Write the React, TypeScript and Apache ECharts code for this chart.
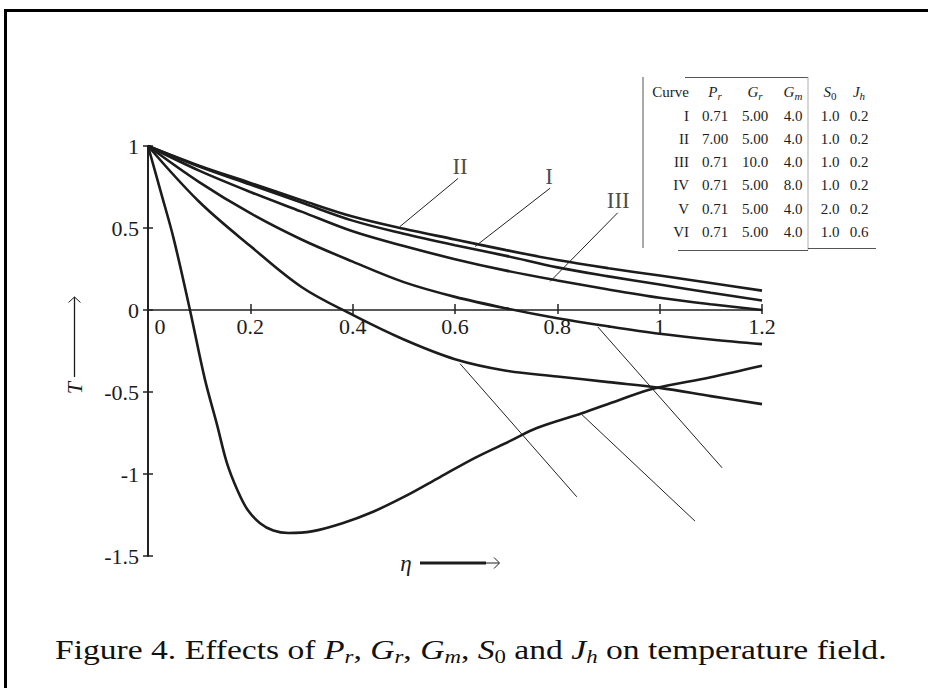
import React, { useEffect, useRef } from 'react';
import * as echarts from 'echarts';

// ---- data ----
const etaGrid = [0, 0.1, 0.2, 0.3, 0.4, 0.5, 0.6, 0.7, 0.8, 0.9, 1.0, 1.1, 1.2];
const curveII = [1, 0.88, 0.775, 0.67, 0.57, 0.495, 0.43, 0.365, 0.305, 0.255, 0.21, 0.165, 0.118];
const curveI = [1, 0.875, 0.765, 0.655, 0.545, 0.465, 0.395, 0.33, 0.26, 0.205, 0.155, 0.105, 0.058];
const curveIII = [1, 0.85, 0.72, 0.6, 0.48, 0.39, 0.31, 0.24, 0.18, 0.125, 0.075, 0.035, 0.0];
const curveIV = [1, 0.78, 0.59, 0.43, 0.295, 0.17, 0.08, 0.01, -0.05, -0.1, -0.145, -0.18, -0.208];
const curveVI = [1, 0.66, 0.39, 0.14, -0.03, -0.18, -0.3, -0.37, -0.405, -0.44, -0.475, -0.525, -0.574];
const etaV = [0, 0.025, 0.05, 0.082, 0.111, 0.135, 0.154, 0.175, 0.195, 0.219, 0.245, 0.274, 0.32, 0.38, 0.44, 0.5, 0.57, 0.64, 0.707, 0.76, 0.848, 0.92, 0.987, 1.1, 1.2];
const curveV = [1, 0.72, 0.437, 0, -0.42, -0.7, -0.93, -1.1, -1.22, -1.3, -1.345, -1.36, -1.35, -1.3, -1.23, -1.14, -1.02, -0.9, -0.8, -0.72, -0.63, -0.55, -0.48, -0.41, -0.34];

// leader lines [eta1, T1, eta2, T2] in data space
const leaders = [
  [0.4925, 0.509, 0.606, 0.802],
  [0.639, 0.387, 0.786, 0.743],
  [0.786, 0.174, 0.918, 0.593],
  [0.879, -0.103, 1.122, -0.962],
  [0.848, -0.638, 1.069, -1.287],
  [0.61, -0.328, 0.838, -1.139],
];
const curveLabels = ['II', 'I', 'III'];
const curveLabelPos = [
  [0.61, 0.874],
  [0.784, 0.814],
  [0.919, 0.665],
];

const xTicks = { min: 0, max: 1.2, interval: 0.2 };
const yTicks = { min: -1.5, max: 1, interval: 0.5 };

// table
const tableCurves = ['I', 'II', 'III', 'IV', 'V', 'VI'];
const tablePr = ['0.71', '7.00', '0.71', '0.71', '0.71', '0.71'];
const tableGr = ['5.00', '5.00', '10.0', '5.00', '5.00', '5.00'];
const tableGm = ['4.0', '4.0', '4.0', '8.0', '4.0', '4.0'];
const tableS0 = ['1.0', '1.0', '1.0', '1.0', '2.0', '1.0'];
const tableJh = ['0.2', '0.2', '0.2', '0.2', '0.2', '0.6'];

const FONT = 'Liberation Serif';
const INK = '#1c1c1c';

function zip(xs: number[], ys: number[]) {
  return xs.map((x, i) => [x, ys[i]]);
}

export default function App() {
  const ref = useRef<HTMLDivElement>(null);
  useEffect(() => {
    const chart = echarts.init(ref.current!, null, { renderer: 'svg' });

    const gridTop = 146;
    const gridHeight = 410;
    // pixel offset that brings a bottom x axis up to T = 0
    const zeroOffset = -gridHeight * (0 - yTicks.min) / (yTicks.max - yTicks.min);

    const lineSeries = (name: string, xs: number[], ys: number[]) => ({
      name,
      type: 'line',
      data: zip(xs, ys),
      showSymbol: false,
      smooth: 0.35,
      lineStyle: { color: INK, width: 2.6 },
      silent: true,
      z: 3,
    });

    const richSub = {
      i: { fontFamily: FONT, fontStyle: 'italic', fontSize: 15 },
      s: { fontFamily: FONT, fontStyle: 'italic', fontSize: 11, verticalAlign: 'bottom', lineHeight: 12 },
      s0: { fontFamily: FONT, fontSize: 11, verticalAlign: 'bottom', lineHeight: 12 },
    };

    const colCenters = [715, 755, 793, 830, 859];
    const headers = ['{i|P}{s|r}', '{i|G}{s|r}', '{i|G}{s|m}', '{i|S}{s0|0}', '{i|J}{s|h}'];
    const rowY0 = 115.5;
    const rowStep = 23.3;
    const tableEls: any[] = [];
    tableEls.push({
      type: 'text', x: 689, y: 92,
      style: { text: 'Curve', fontFamily: FONT, fontSize: 15, fill: INK, align: 'right', verticalAlign: 'middle' },
    });
    headers.forEach((h, j) => {
      tableEls.push({
        type: 'text', x: colCenters[j], y: 92,
        style: { text: h, fontFamily: FONT, fontSize: 15, fill: INK, align: 'center', verticalAlign: 'middle', lineHeight: 18, rich: richSub },
      });
    });
    const cols = [tablePr, tableGr, tableGm, tableS0, tableJh];
    tableCurves.forEach((c, r) => {
      const y = rowY0 + r * rowStep;
      tableEls.push({
        type: 'text', x: 689, y,
        style: { text: c, fontFamily: FONT, fontSize: 15, fill: INK, align: 'right', verticalAlign: 'middle' },
      });
      cols.forEach((col, j) => {
        tableEls.push({
          type: 'text', x: colCenters[j], y,
          style: { text: col[r], fontFamily: FONT, fontSize: 15, fill: INK, align: 'center', verticalAlign: 'middle' },
        });
      });
    });
    tableEls.push(
      { type: 'line', shape: { x1: 643, y1: 77, x2: 643, y2: 248 }, style: { stroke: '#555', lineWidth: 1 } },
      { type: 'line', shape: { x1: 685, y1: 77.5, x2: 808, y2: 77.5 }, style: { stroke: '#555', lineWidth: 1 } },
      { type: 'line', shape: { x1: 808, y1: 77, x2: 808, y2: 250 }, style: { stroke: '#999', lineWidth: 0.8 } },
      { type: 'line', shape: { x1: 678, y1: 250.5, x2: 808, y2: 250.5 }, style: { stroke: '#555', lineWidth: 1 } },
      { type: 'line', shape: { x1: 808, y1: 248.5, x2: 876, y2: 248.5 }, style: { stroke: '#555', lineWidth: 1 } },
    );

    const capRich = {
      i: { fontFamily: FONT, fontStyle: 'italic', fontSize: 28, lineHeight: 34 },
      s: { fontFamily: FONT, fontStyle: 'italic', fontSize: 19, verticalAlign: 'bottom', lineHeight: 19 },
      s0: { fontFamily: FONT, fontSize: 19, verticalAlign: 'bottom', lineHeight: 19 },
    };
    const caption =
      'Figure 4. Effects of {i|P}{s|r}, {i|G}{s|r}, {i|G}{s|m}, {i|S}{s0|0} and {i|J}{s|h} on temperature field.';

    const labelStyle = { fontFamily: FONT, fontSize: 22, color: INK };

    const option: any = {
      animation: false,
      backgroundColor: '#fff',
      grid: { left: 148, top: gridTop, width: 614, height: gridHeight, containLabel: false },
      xAxis: [
        {
          type: 'value', ...xTicks, position: 'bottom', offset: zeroOffset,
          axisLine: { onZero: false, lineStyle: { color: '#222', width: 1.6 } },
          axisTick: { inside: true, length: 6, lineStyle: { color: '#222', width: 1.5 } },
          axisLabel: {
            margin: 5,
            ...labelStyle,
            formatter: (v: number) => (v === 0 ? '{z|0}' : String(Math.round(v * 10) / 10)),
            rich: { z: { ...labelStyle, padding: [0, 0, 0, 24] } },
          },
          splitLine: { show: false },
        },
        {
          type: 'value', ...xTicks, position: 'bottom', offset: zeroOffset,
          axisLine: { show: false, onZero: false },
          axisTick: { inside: false, length: 4, lineStyle: { color: '#222', width: 1.5 } },
          axisLabel: { show: false },
          splitLine: { show: false },
        },
      ],
      yAxis: [
        {
          type: 'value', ...yTicks, position: 'left',
          axisLine: { onZero: false, lineStyle: { color: '#222', width: 2 } },
          axisTick: { inside: false, length: 5, lineStyle: { color: '#222', width: 1.5 } },
          axisLabel: {
            margin: 9, ...labelStyle,
            formatter: (v: number) => String(Math.round(v * 10) / 10),
          },
          splitLine: { show: false },
        },
        {
          type: 'value', ...yTicks, position: 'left',
          axisLine: { show: false, onZero: false },
          axisTick: { inside: true, length: 5, lineStyle: { color: '#222', width: 1.5 } },
          axisLabel: { show: false },
          splitLine: { show: false },
        },
      ],
      series: [
        lineSeries('II', etaGrid, curveII),
        lineSeries('I', etaGrid, curveI),
        lineSeries('III', etaGrid, curveIII),
        lineSeries('IV', etaGrid, curveIV),
        lineSeries('V', etaV, curveV),
        lineSeries('VI', etaGrid, curveVI),
        {
          type: 'lines', coordinateSystem: 'cartesian2d', silent: true, z: 4,
          data: leaders.map((l) => ({ coords: [[l[0], l[1]], [l[2], l[3]]] })),
          lineStyle: { color: '#222', width: 1, opacity: 1, curveness: 0 },
        },
        {
          type: 'scatter', silent: true, symbolSize: 1, itemStyle: { color: 'rgba(0,0,0,0)' },
          data: curveLabels.map((n, i) => ({ name: n, value: curveLabelPos[i] })),
          label: {
            show: true, position: 'inside', formatter: '{b}',
            fontFamily: FONT, fontSize: 23, color: INK,
          },
        },
      ],
      graphic: [
        { type: 'rect', shape: { x: 5.5, y: 10.5, width: 1000, height: 1000 }, style: { fill: 'none', stroke: '#000', lineWidth: 3 } },
        ...tableEls,
        // y-axis name: T with arrow
        {
          type: 'text', x: 74, y: 388, rotation: Math.PI / 2,
          style: { text: 'T', fontFamily: FONT, fontStyle: 'italic', fontSize: 22, fill: INK, align: 'center', verticalAlign: 'middle' },
        },
        { type: 'line', shape: { x1: 74.5, y1: 377, x2: 74.5, y2: 297 }, style: { stroke: INK, lineWidth: 1.3 } },
        { type: 'polyline', shape: { points: [[68.5, 302.5], [74.5, 297], [80.5, 302.5]] }, style: { stroke: INK, lineWidth: 1, fill: 'none' } },
        // x-axis name: eta with arrow
        {
          type: 'text', x: 406, y: 563,
          style: { text: 'η', fontFamily: FONT, fontStyle: 'italic', fontSize: 23, fill: INK, align: 'center', verticalAlign: 'middle' },
        },
        { type: 'line', shape: { x1: 420, y1: 563, x2: 486, y2: 563 }, style: { stroke: INK, lineWidth: 3 } },
        { type: 'line', shape: { x1: 485, y1: 563, x2: 499, y2: 563 }, style: { stroke: INK, lineWidth: 1 } },
        { type: 'polyline', shape: { points: [[494, 557.5], [499.5, 563], [494, 568.5]] }, style: { stroke: INK, lineWidth: 1, fill: 'none' } },
        // caption
        {
          type: 'text', x: 55, y: 649, scaleX: 1.2,
          style: {
            text: caption, fontFamily: FONT, fontSize: 28, lineHeight: 34, fill: '#111',
            align: 'left', verticalAlign: 'middle', rich: capRich,
          },
        },
      ],
    };

    chart.setOption(option);
    return () => chart.dispose();
  }, []);

  return (
    <div
      ref={ref}
      style={{ position: 'fixed', left: 0, top: 0, width: 928, height: 688, background: '#fff' }}
    />
  );
}
